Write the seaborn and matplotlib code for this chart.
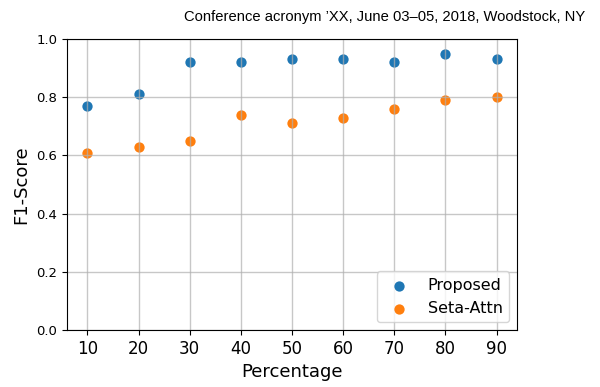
import matplotlib
matplotlib.use("Agg")
import matplotlib.pyplot as plt
import seaborn as sns
import pandas as pd

percentages = [10, 20, 30, 40, 50, 60, 70, 80, 90]
proposed = [0.77, 0.81, 0.92, 0.92, 0.93, 0.93, 0.92, 0.95, 0.93]
seta_attn = [0.61, 0.63, 0.65, 0.74, 0.71, 0.73, 0.76, 0.79, 0.80]
series_names = ["Proposed", "Seta-Attn"]
colors = ["#1f77b4", "#ff7f0e"]
yticks = [0.0, 0.2, 0.4, 0.6, 0.8, 1.0]

fig = plt.figure(figsize=(6.0, 3.87), dpi=100)
ax = fig.add_axes([0.1117, 0.147, 0.75, 0.752])
for name, vals, c in zip(series_names, [proposed, seta_attn], colors):
    sns.scatterplot(x=percentages, y=vals, color=c, s=55, linewidth=0,
                    label=name, ax=ax)
ax.grid(True, color="#b0b0b0", linewidth=1.0, alpha=0.7)
ax.set_ylim(0, 1.0)
ax.set_yticks(yticks)
ax.set_xticks(percentages)
ax.tick_params(axis="x", labelsize=12)
ax.tick_params(axis="y", labelsize=9.5)
ax.set_xlabel("Percentage", fontsize=13)
ax.set_ylabel("F1-Score", fontsize=13)
ax.legend(loc="lower right", fontsize=11.5)
fig.text(0.975, 0.955, "Conference acronym \u2019XX, June 03\u201305, 2018, Woodstock, NY",
         ha="right", va="center", fontsize=10.6, family="Liberation Sans")
fig.savefig("out.png", dpi=100)
